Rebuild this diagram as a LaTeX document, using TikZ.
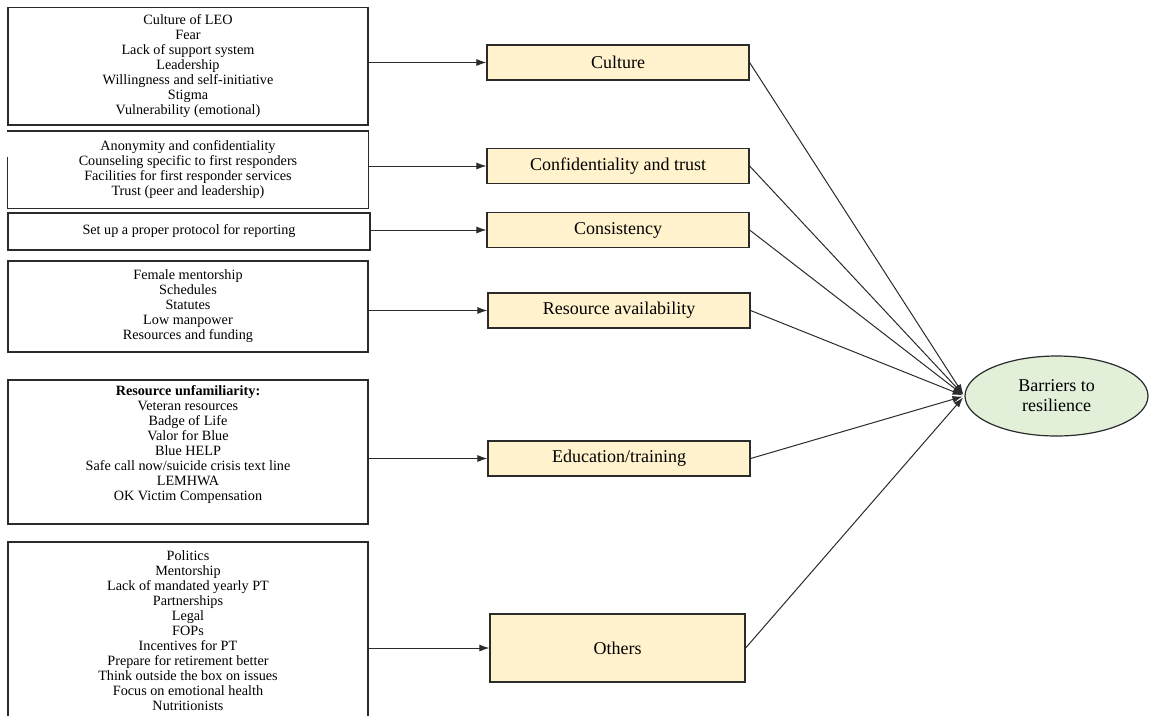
\documentclass[tikz,border=0pt]{standalone}
\usepackage{fontspec}
\setmainfont{Liberation Serif}
\usetikzlibrary{arrows.meta,shapes.geometric}

\definecolor{lineclr}{HTML}{2B2B2B}
\definecolor{catfill}{HTML}{FFF2CC}
\definecolor{goalfill}{HTML}{E2EFD9}

\tikzset{
  listbox/.style={draw=lineclr, line width=1.3pt, fill=white, align=center,
    minimum width=360pt, inner sep=0pt,
    font=\fontsize{14.2}{15}\selectfont},
  catbox/.style={draw=lineclr, line width=1.2pt, fill=catfill, align=center,
    minimum width=262pt, minimum height=35pt, inner sep=0pt,
    font=\fontsize{18}{20}\selectfont},
  goal/.style={ellipse, draw=lineclr, line width=1.2pt, fill=goalfill, align=center,
    minimum width=183pt, minimum height=80pt, inner sep=0pt,
    font=\fontsize{18}{20}\selectfont},
  feed/.style={draw=lineclr, line width=1pt, -{Latex[length=10pt,width=7pt]}},
}

\begin{document}
\begin{tikzpicture}[x=1pt, y=-1pt]
\useasboundingbox[fill=white] (0,0) rectangle (1150,715);

% lists of factors on the left
\node[listbox, minimum height=117.5pt] (L1) at (188,66.3) {Culture of LEO\\Fear\\Lack of support system\\Leadership\\Willingness and self-initiative\\Stigma\\Vulnerability (emotional)};
\node[listbox, draw=none, minimum height=76pt] (L2) at (188,169.5) {Anonymity and confidentiality\\Counseling specific to first responders\\Facilities for first responder services\\Trust (peer and leadership)};
\draw[lineclr, line width=1.3pt] ([yshift=-26pt]L2.north west) -- (L2.south west) -- (L2.south east) -- (L2.north east) -- (L2.north west);
\node[listbox, minimum width=362pt, minimum height=37pt] (L3) at (189,231.5) {Set up a proper protocol for reporting};
\node[listbox, minimum height=91pt] (L4) at (188,306.5) {Female mentorship\\Schedules\\Statutes\\Low manpower\\Resources and funding};
\node[listbox, minimum height=144pt] (L5) at (188,452) {\textbf{Resource unfamiliarity:}\\Veteran resources\\Badge of Life\\Valor for Blue\\Blue HELP\\Safe call now/suicide crisis text line\\LEMHWA\\OK Victim Compensation\\[4pt]};
\node[listbox, minimum height=178pt] (L6) at (188,631) {Politics\\Mentorship\\Lack of mandated yearly PT\\Partnerships\\Legal\\FOPs\\Incentives for PT\\Prepare for retirement better\\Think outside the box on issues\\Focus on emotional health\\Nutritionists};

% barrier categories
\node[catbox] (M1) at (618,62.5) {Culture};
\node[catbox] (M2) at (618,166) {Confidentiality and trust};
\node[catbox] (M3) at (618,230) {Consistency};
\node[catbox] (M4) at (619,310.5) {Resource availability};
\node[catbox] (M5) at (619,458.5) {Education/training};
\node[catbox, minimum width=255pt, minimum height=68pt] (M6) at (617.5,648) {Others};

% outcome
\node[goal] (G) at (1056.5,396) {Barriers to\\resilience};

% factors feed the categories
\foreach \i in {1,...,6}{
  \draw[feed] (L\i.east |- M\i.west) -- (M\i.west);
}
% categories feed the outcome
\foreach \i in {1,...,6}{
  \draw[feed, shorten >=2pt] (M\i.east) -- (G.west);
}
\end{tikzpicture}
\end{document}
